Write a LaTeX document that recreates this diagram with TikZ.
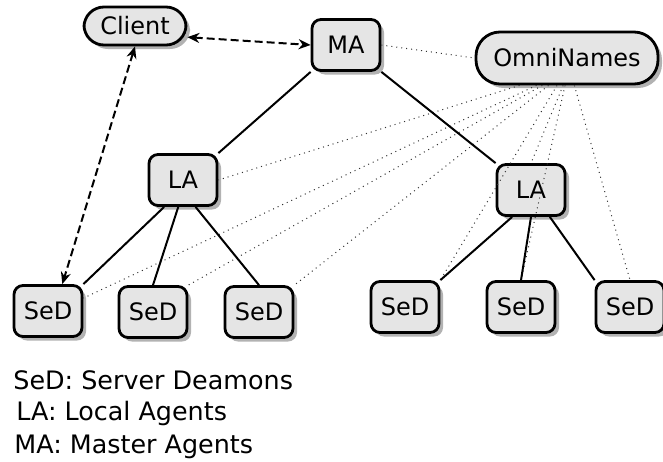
\documentclass[tikz,border=0pt]{standalone}
\usepackage{fontspec}
\setmainfont{DejaVu Sans}
\usetikzlibrary{shadows,arrows.meta}

\begin{document}
\begin{tikzpicture}[x=0.5pt,y=-0.5pt]
\tikzset{agent/.style={draw, line width=1.4pt, rounded corners=4.5pt, fill=black!10,
    drop shadow={shadow xshift=2pt, shadow yshift=-2pt, opacity=0.3, fill=black},
    minimum width=34pt, minimum height=25.5pt, inner sep=0pt, font=\fontsize{12}{14}\selectfont},
  roundbox/.style={agent, rounded corners=10pt},
  tree/.style={line width=1pt},
  naming/.style={dotted, black!80, line width=0.5pt},
  link/.style={dash pattern=on 4pt off 2pt, line width=1pt, {Stealth[length=6pt,width=5pt]}-{Stealth[length=6pt,width=5pt]}},
  legend/.style={anchor=west, inner sep=0pt, font=\fontsize{12.7}{15}\selectfont}}
\useasboundingbox (0,0) rectangle (663,461);
\node[roundbox, minimum width=51pt, minimum height=19pt] (Client) at (135,26) {Client};
\node[agent] (MA) at (346,45) {MA};
\node[roundbox, minimum width=91pt, minimum height=26pt, rounded corners=12pt] (ON) at (567,58) {OmniNames};
\node[agent] (LA1) at (183,180) {LA};
\node[agent] (LA2) at (531,190) {LA};
\node[agent] (SeD1) at (48,311) {SeD};
\node[agent] (SeD2) at (153,312) {SeD};
\node[agent] (SeD3) at (259,312) {SeD};
\node[agent] (SeD4) at (405,307) {SeD};
\node[agent] (SeD5) at (521,307) {SeD};
\node[agent] (SeD6) at (630,307) {SeD};
\draw[naming] (MA.east) -- (ON.west);
\draw[naming] (ON.210) -- (LA1.east);
\draw[naming] (ON.222) -- (SeD1.20);
\draw[naming] (ON.228) -- (SeD2.north east);
\draw[naming] (ON.236) -- (SeD3.north east);
\draw[naming] (ON.250) -- (SeD4.north east);
\draw[naming] (ON.262) -- (LA2.north);
\draw[naming] (ON.266) -- (SeD5.north);
\draw[naming] (ON.285) -- (SeD6.north);
\draw[tree] (MA.south west) -- (LA1.north east);
\draw[tree] (MA.south east) -- (LA2.north west);
\draw[tree] (LA1.235) -- (SeD1.north east);
\draw[tree] (LA1.260) -- (SeD2.north);
\draw[tree] (LA1.295) -- (SeD3.north);
\draw[tree] (LA2.235) -- (SeD4.north east);
\draw[tree] (LA2.270) -- (SeD5.north);
\draw[tree] (LA2.305) -- (SeD6.north west);
\draw[link] (Client.-12) -- (MA.west);
\draw[link] (Client.south) -- (SeD1.62);
\node[legend] (L1) at (13,380) {SeD: Server Deamons};
\node[legend] (L2) at (16,413) {LA: Local Agents};
\node[legend] (L3) at (14,447) {MA: Master Agents};
\end{tikzpicture}
\end{document}
